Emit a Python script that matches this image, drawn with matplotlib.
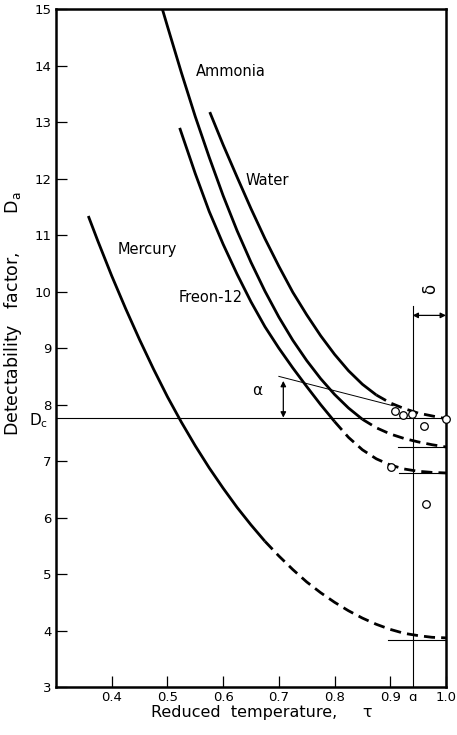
import matplotlib
matplotlib.use("Agg")
import matplotlib.pyplot as plt

# Values: reduced temperature (tau) vs detectability factor (D)
water_tau = [0.576, 0.60, 0.625, 0.65, 0.675, 0.70, 0.725, 0.75, 0.775, 0.80, 0.825, 0.85,
             0.875, 0.90, 0.925, 0.95, 0.975, 1.0]
water_d = [13.18, 12.60, 12.03, 11.47, 10.94, 10.45, 9.99, 9.59, 9.22, 8.89, 8.60, 8.36,
           8.17, 8.03, 7.93, 7.85, 7.80, 7.75]

ammonia_tau = [0.491, 0.50, 0.525, 0.55, 0.575, 0.60, 0.625, 0.65, 0.675, 0.70, 0.725, 0.75,
               0.775, 0.80, 0.825, 0.85, 0.875, 0.90, 0.925, 0.95, 0.975, 1.0]
ammonia_d = [15.0, 14.70, 13.88, 13.10, 12.38, 11.70, 11.08, 10.52, 10.01, 9.55, 9.14, 8.78,
             8.46, 8.18, 7.94, 7.74, 7.59, 7.48, 7.40, 7.34, 7.29, 7.25]

freon_tau = [0.522, 0.55, 0.575, 0.60, 0.625, 0.65, 0.675, 0.70, 0.725, 0.75, 0.775, 0.80,
             0.825, 0.85, 0.875, 0.90, 0.925, 0.95, 0.975, 1.0]
freon_d = [12.90, 12.09, 11.42, 10.84, 10.31, 9.82, 9.38, 9.00, 8.65, 8.32, 8.00, 7.70,
           7.42, 7.20, 7.04, 6.93, 6.86, 6.82, 6.80, 6.79]

mercury_tau = [0.358, 0.375, 0.40, 0.425, 0.45, 0.475, 0.50, 0.525, 0.55, 0.575, 0.60, 0.625,
               0.65, 0.675, 0.70, 0.725, 0.75, 0.775, 0.80, 0.825, 0.85, 0.875, 0.90, 0.925,
               0.95, 0.975, 1.0]
mercury_d = [11.34, 10.90, 10.28, 9.70, 9.15, 8.63, 8.14, 7.69, 7.27, 6.88, 6.52, 6.18,
             5.87, 5.58, 5.32, 5.08, 4.86, 4.67, 4.50, 4.35, 4.22, 4.11, 4.02, 3.95,
             3.91, 3.88, 3.87]

# tau where each curve turns from solid to dashed
dash_from = {"Water": 0.875, "Ammonia": 0.85, "Freon-12": 0.80, "Mercury": 0.675}

# measured points (open circles)
obs_tau = [0.908, 0.923, 0.939, 0.96, 1.0, 0.902, 0.964]
obs_d = [7.88, 7.81, 7.84, 7.62, 7.74, 6.89, 6.24]

d_c = 7.76
tau_a = 0.94
curve_ends = [7.25, 6.79, 3.84]
end_line_start = [0.913, 0.916, 0.895]

x_ticks = [0.4, 0.5, 0.6, 0.7, 0.8, 0.9, tau_a, 1.0]
x_tick_labels = ["0.4", "0.5", "0.6", "0.7", "0.8", "0.9", "ɑ", "1.0"]
y_ticks = list(range(3, 16))

fig = plt.figure(figsize=(4.57, 7.35), dpi=100)
ax = fig.add_axes([56 / 457, 1 - 687 / 735, 390 / 457, 677.7 / 735])
ax.set_xlim(0.3, 1.0)
ax.set_ylim(3, 15)

curves = [
    ("Water", water_tau, water_d),
    ("Ammonia", ammonia_tau, ammonia_d),
    ("Freon-12", freon_tau, freon_d),
    ("Mercury", mercury_tau, mercury_d),
]
for name, taus, ds in curves:
    cut = dash_from[name]
    solid = [(t, d) for t, d in zip(taus, ds) if t <= cut]
    dashed = [(t, d) for t, d in zip(taus, ds) if t >= cut]
    ax.plot([p[0] for p in solid], [p[1] for p in solid], color="black", lw=2.0,
            solid_capstyle="butt", solid_joinstyle="round", zorder=3)
    ax.plot([p[0] for p in dashed], [p[1] for p in dashed], color="black", lw=2.0,
            linestyle=(0, (4, 2.2)), dash_capstyle="butt", zorder=3)

ax.scatter(obs_tau, obs_d, s=30, facecolors="white", edgecolors="black",
           linewidths=0.9, zorder=5, clip_on=False)

# reference lines
ax.axhline(d_c, color="black", lw=0.8, zorder=2)
ax.plot([tau_a, tau_a], [3, 9.75], color="black", lw=0.8, zorder=2)
for y0, x0 in zip(curve_ends, end_line_start):
    ax.plot([x0, 1.0], [y0, y0], color="black", lw=0.8, zorder=2)

# tangent line and angle arrow
ax.plot([0.70, 0.905], [8.50, 7.98], color="black", lw=0.7, zorder=2)
ax.annotate("", xy=(0.708, 8.42), xytext=(0.708, 7.77),
            arrowprops=dict(arrowstyle="<|-|>", color="black", lw=0.9,
                            mutation_scale=8, shrinkA=0, shrinkB=0))
ax.text(0.662, 8.25, "α", fontsize=11, ha="center", va="center")

# delta arrow
ax.annotate("", xy=(tau_a, 9.58), xytext=(1.0, 9.58),
            arrowprops=dict(arrowstyle="<|-|>", color="black", lw=0.9,
                            mutation_scale=8, shrinkA=0, shrinkB=0))
ax.text(0.972, 10.05, "δ", fontsize=12, ha="center", va="center", rotation=90)

# curve labels
ax.text(0.551, 13.9, "Ammonia", fontsize=10.5, ha="left", va="center")
ax.text(0.641, 11.97, "Water", fontsize=10.5, ha="left", va="center")
ax.text(0.636, 9.9, "Freon-12", fontsize=10.5, ha="right", va="center")
ax.text(0.41, 10.74, "Mercury", fontsize=10.5, ha="left", va="center")

ax.text(0.268, 7.71, r"$\mathregular{D_c}$", fontsize=11, ha="center", va="center",
        clip_on=False)

ax.set_xticks(x_ticks)
ax.set_xticklabels(x_tick_labels)
ax.set_yticks(y_ticks)
ax.tick_params(direction="in", length=8, width=0.9, labelsize=9.5, pad=3)
ax.xaxis.get_major_ticks()[6].tick1line.set_visible(False)
for s in ax.spines.values():
    s.set_linewidth(1.8)

fig.text(262 / 457, 1 - 712 / 735, "Reduced  temperature,     τ", fontsize=11.5,
         ha="center", va="center")
fig.text(13 / 457, 1 - 314 / 735, r"Detectability   factor,       $\mathregular{D_a}$",
         fontsize=12.5, ha="center", va="center", rotation=90)

fig.savefig("out.png", dpi=100)
